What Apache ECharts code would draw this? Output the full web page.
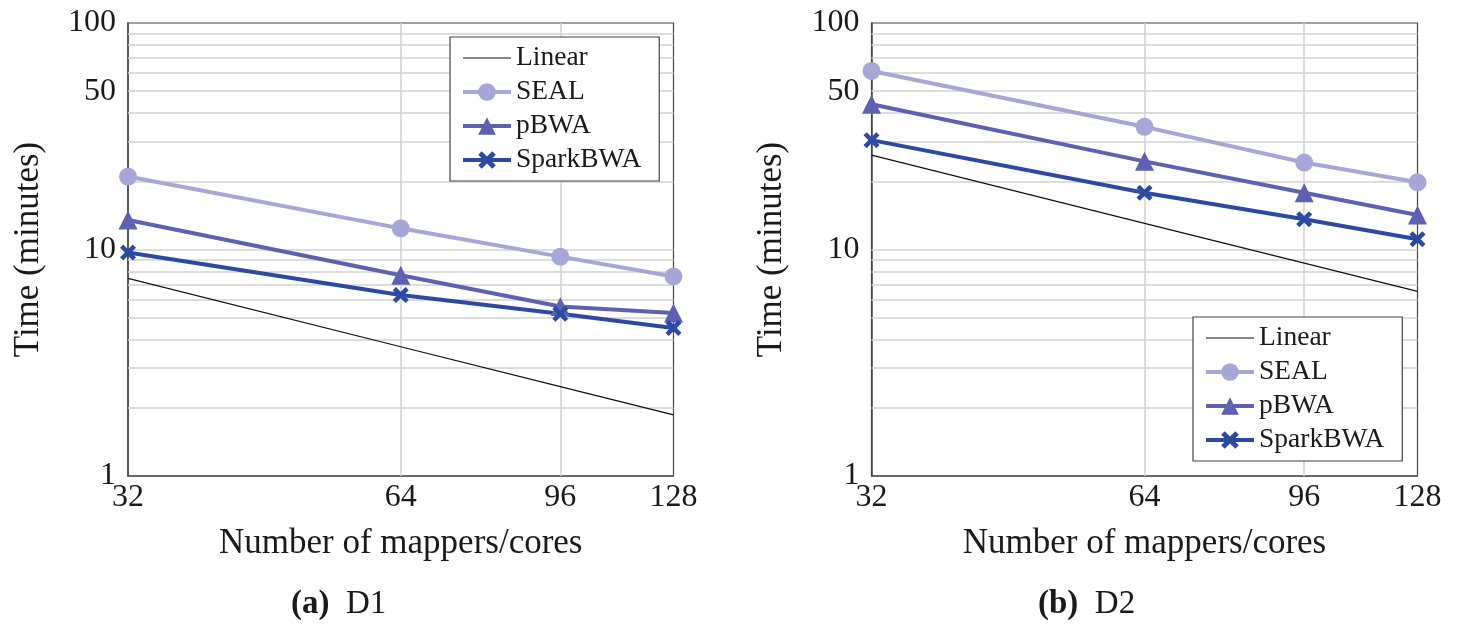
<!DOCTYPE html>
<html><head><meta charset="utf-8">
<script src="https://cdn.jsdelivr.net/npm/echarts@6/dist/echarts.min.js"></script>
<style>html,body{margin:0;padding:0;background:#fff}#c{width:1458px;height:632px}</style>
</head><body><div id="c"></div><script>
// ---- data ----
const xValues = [32, 64, 96, 128];
const xTickLabels = [32, 64, 96, 128];
const yTickLabels = [1, 10, 50, 100];
const seriesNames = ['Linear', 'SEAL', 'pBWA', 'SparkBWA'];
const d1Linear = [7.45, 3.72, 2.48, 1.86];
const d1Seal = [21.0, 12.4, 9.3, 7.6];
const d1Pbwa = [13.5, 7.7, 5.6, 5.25];
const d1Spark = [9.7, 6.3, 5.2, 4.5];
const d2Linear = [26.1, 13.05, 8.7, 6.53];
const d2Seal = [61.4, 34.8, 24.2, 19.8];
const d2Pbwa = [43.8, 24.5, 17.8, 14.2];
const d2Spark = [30.4, 17.8, 13.6, 11.1];
const yGridValues = [2, 3, 4, 5, 6, 7, 8, 9, 10, 20, 30, 40, 50, 60, 70, 80, 90];
const xGridValues = [64, 96];
const captions = ['{b|(a)}  D1', '{b|(b)}  D2'];

// ---- style ----
const FONT = 'Liberation Serif';
const TXT = '#1a1a1a';
const colors = { Linear: '#111111', SEAL: '#a6a6d7', pBWA: '#5e61b0', SparkBWA: '#2d4aa3' };
const crossPath = 'path://M0,2 L2,0 L5,3 L8,0 L10,2 L7,5 L10,8 L8,10 L5,7 L2,10 L0,8 L3,5 Z';
const GRIDC = '#d2d2d2';

const grids = [
  { left: 128, top: 23, width: 545.5, height: 453 },
  { left: 871.5, top: 23, width: 546, height: 453 }
];

function pts(arr) { return xValues.map((x, i) => [x, arr[i]]); }

function panelSeries(idx, lin, seal, pbwa, spark) {
  const base = { type: 'line', xAxisIndex: idx, yAxisIndex: idx, animation: false, z: 3 };
  return [
    Object.assign({}, base, {
      name: 'Linear', data: pts(lin), symbol: 'none',
      lineStyle: { color: colors.Linear, width: 1.2 }, itemStyle: { color: colors.Linear },
      markLine: {
        silent: true, z: 1, animation: false, symbol: ['none', 'none'],
        label: { show: false },
        lineStyle: { color: GRIDC, width: 1.5, type: 'solid' },
        emphasis: { disabled: true },
        data: yGridValues.map(v => ({ yAxis: v })).concat(xGridValues.map(v => ({ xAxis: v })))
      }
    }),
    Object.assign({}, base, {
      name: 'SEAL', data: pts(seal), symbol: 'circle', symbolSize: 18,
      lineStyle: { color: colors.SEAL, width: 4 }, itemStyle: { color: colors.SEAL }
    }),
    Object.assign({}, base, {
      name: 'pBWA', data: pts(pbwa), symbol: 'triangle', symbolSize: 19,
      lineStyle: { color: colors.pBWA, width: 4 }, itemStyle: { color: colors.pBWA }
    }),
    Object.assign({}, base, {
      name: 'SparkBWA', data: pts(spark), symbol: crossPath, symbolSize: 16,
      lineStyle: { color: colors.SparkBWA, width: 4 }, itemStyle: { color: colors.SparkBWA }
    })
  ];
}

function xAxisFor(idx) {
  return {
    type: 'log', logBase: 2, min: 32, max: 128, gridIndex: idx,
    name: 'Number of mappers/cores', nameLocation: 'middle', nameGap: 50,
    nameTextStyle: { fontFamily: FONT, fontSize: 35, color: TXT },
    axisLine: { show: true, lineStyle: { color: '#555', width: 1.5 } },
    axisTick: { show: false },
    splitLine: { show: false },
    minorTick: { show: false }, minorSplitLine: { show: false },
    axisLabel: {
      customValues: xTickLabels,
      fontFamily: FONT, fontSize: 32, color: TXT, margin: 6,
      formatter: v => String(Math.round(v))
    }
  };
}
function yAxisFor(idx) {
  return {
    type: 'log', logBase: 10, min: 1, max: 100, gridIndex: idx,
    name: 'Time (minutes)', nameLocation: 'middle', nameGap: 82,
    nameTextStyle: { fontFamily: FONT, fontSize: 35, color: TXT },
    axisLine: { show: true, lineStyle: { color: '#444', width: 1.5 } },
    axisTick: { show: false },
    splitLine: { show: false },
    minorTick: { show: false }, minorSplitLine: { show: false },
    axisLabel: {
      customValues: yTickLabels,
      fontFamily: FONT, fontSize: 32, color: TXT, margin: 12,
      formatter: v => String(Math.round(v))
    }
  };
}

const legendData = [
  { name: 'Linear', itemStyle: { opacity: 0 }, lineStyle: { width: 1.2 } },
  { name: 'SEAL', lineStyle: { width: 4 } },
  { name: 'pBWA', lineStyle: { width: 4 } },
  { name: 'SparkBWA', lineStyle: { width: 4 } }
];
function legendAt(left, top) {
  return {
    orient: 'vertical', left: left, top: top, data: legendData,
    padding: [6, 18, 6, 11], itemGap: 4, itemWidth: 48, itemHeight: 22,
    backgroundColor: '#fff', borderColor: '#444', borderWidth: 1.2, borderRadius: 0,
    selectedMode: false,
    textStyle: { fontFamily: FONT, fontSize: 27.5, color: TXT, lineHeight: 30 }
  };
}
function captionAt(text, left) {
  return {
    text: text, left: left, top: 588, padding: 0,
    textStyle: {
      fontFamily: FONT, fontSize: 33, fontWeight: 'normal', color: TXT,
      rich: { b: { fontFamily: FONT, fontSize: 33, fontWeight: 'bold', color: TXT } }
    }
  };
}

const chart = echarts.init(document.getElementById('c'), null, { renderer: 'canvas' });
chart.setOption({
  backgroundColor: '#fff',
  animation: false,
  title: [captionAt(captions[0], 291), captionAt(captions[1], 1038)],
  grid: grids.map(g => Object.assign({ show: true, borderColor: '#444', borderWidth: 1.2, backgroundColor: 'transparent' }, g)),
  xAxis: [xAxisFor(0), xAxisFor(1)],
  yAxis: [yAxisFor(0), yAxisFor(1)],
  legend: [legendAt(450, 37), legendAt(1193, 317)],
  series: panelSeries(0, d1Linear, d1Seal, d1Pbwa, d1Spark).concat(panelSeries(1, d2Linear, d2Seal, d2Pbwa, d2Spark))
});
</script></body></html>
